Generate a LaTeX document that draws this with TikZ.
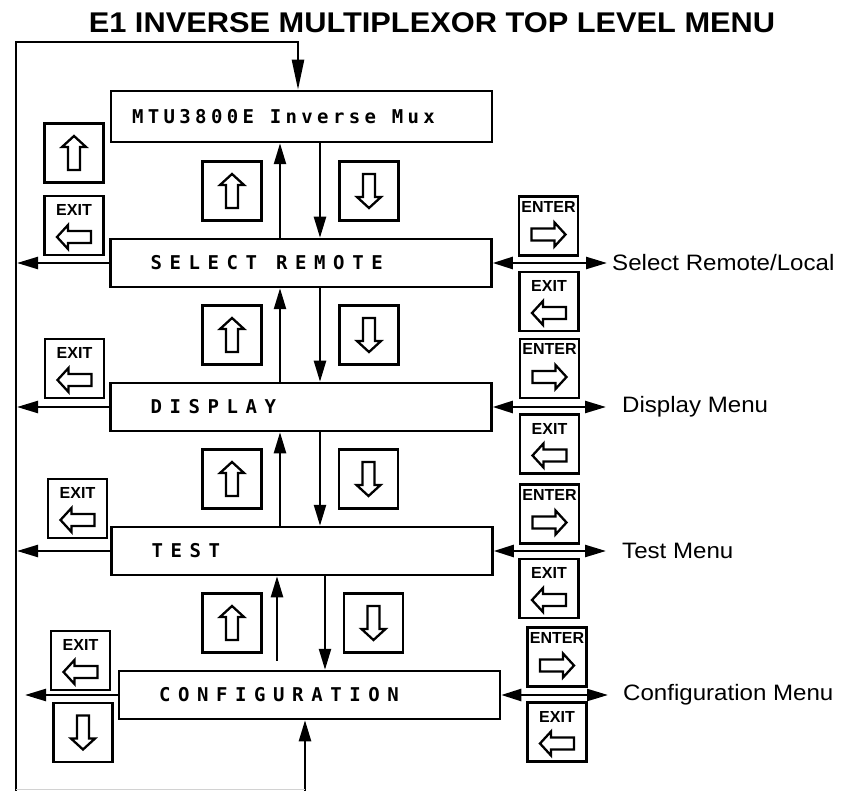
\documentclass[tikz,border=0pt]{standalone}
\usepackage{fontspec}
\setmainfont{Liberation Sans}
\newfontfamily\headfont{Liberation Sans}[FakeStretch=1.08]
\newfontfamily\lcdfont{DejaVu Sans Mono}[LetterSpace=40]
\newfontfamily\lcdnarrow{DejaVu Sans Mono}[LetterSpace=23]
\usetikzlibrary{arrows.meta}

\tikzset{
  blockarrow/.pic={\draw[line width=2.3pt, line join=miter]
    (-6,17) -- (-6,-6) -- (-12,-6) -- (0,-17) -- (12,-6) -- (6,-6) -- (6,17) -- cycle;},
  keylbl/.style={inner sep=0pt, font=\bfseries\fontsize{16}{18}\selectfont},
  keybox/.style={draw, line width=2.4pt, minimum width=59pt, minimum height=59pt, inner sep=0pt},
  upkey/.style={keybox, path picture={\pic at (path picture bounding box.center) {blockarrow};}},
  downkey/.style={keybox, path picture={\pic[rotate=180] at (path picture bounding box.center) {blockarrow};}},
  exitkey/.style={keybox, path picture={
    \node[keylbl] at ([yshift=-14pt]path picture bounding box.north) {EXIT};
    \pic[rotate=90] at ([yshift=-41pt]path picture bounding box.north) {blockarrow};}},
  enterkey/.style={keybox, path picture={
    \node[keylbl] at ([yshift=-10pt]path picture bounding box.north) {ENTER};
    \pic[rotate=-90] at ([yshift=-38pt]path picture bounding box.north) {blockarrow};}}
}

\begin{document}
\begin{tikzpicture}[x=1pt, y=-1pt,
  menubox/.style={draw, line width=2.5pt, minimum height=48pt, text width=301pt,
    inner xsep=40pt, align=left, font=\lcdfont\bfseries\fontsize{19}{22}\selectfont},
  menulbl/.style={anchor=west, inner xsep=16pt, font=\headfont\fontsize{22.3}{26}\selectfont},
  arr/.style={-{Triangle[length=21pt,width=12pt]}, line width=2.4pt},
  bigarr/.style={-{Triangle[length=30pt,width=12pt]}, line width=2.4pt},
  dbl/.style={{Triangle[length=20pt,width=12pt]}-{Triangle[length=21pt,width=12pt]}, line width=2.4pt}
]
  \fill[white] (0,0) rectangle (846,791);
  \useasboundingbox (0,0) rectangle (846,791);

  \node[font=\headfont\bfseries\fontsize{28.5}{33}\selectfont] (title) at (432,23)
    {E1 INVERSE MULTIPLEXOR TOP LEVEL MENU};

  % menu screens
  \node[menubox, font=\lcdnarrow\bfseries\fontsize{19}{22}\selectfont, inner xsep=21pt,
    text width=339pt, minimum height=51pt] (mtu) at (301.5,116.5)
    {MTU3800E\hspace{15.7pt}Inverse\hspace{15.7pt}Mux};
  \node[menubox] (sel) at (301,263) {SELECT\hspace{19pt}REMOTE};
  \node[menubox] (disp) at (301,407) {DISPLAY};
  \node[menubox] (test) at (302,551) {TEST};
  \node[menubox] (conf) at (309.5,695) {CONFIGURATION};

  % keys on the left
  \node[upkey] (lup) at (74,153) {};
  \node[exitkey] (lexit1) at (74,225.5) {};
  \node[exitkey] (lexit2) at (74.5,368.5) {};
  \node[exitkey] (lexit3) at (77.5,508.5) {};
  \node[exitkey] (lexit4) at (80.5,660.5) {};
  \node[downkey] (ldown) at (83,732.5) {};

  % keys between the screens
  \node[upkey] (up1) at (232,191) {};
  \node[downkey] (dn1) at (369,191) {};
  \node[upkey] (up2) at (232,335) {};
  \node[downkey] (dn2) at (369,335) {};
  \node[upkey] (up3) at (232,479) {};
  \node[downkey] (dn3) at (368.5,479) {};
  \node[upkey] (up4) at (232,623) {};
  \node[downkey] (dn4) at (373.5,623) {};

  % keys on the right
  \node[enterkey] (ent1) at (548.5,226) {};
  \node[exitkey] (rexit1) at (549,301.5) {};
  \node[enterkey] (ent2) at (549.5,368.5) {};
  \node[exitkey] (rexit2) at (549.5,444) {};
  \node[enterkey] (ent3) at (549.5,514) {};
  \node[exitkey] (rexit3) at (549,588.5) {};
  \node[enterkey] (ent4) at (557,657) {};
  \node[exitkey] (rexit4) at (557,732) {};

  % sub menus
  \node[menulbl, inner xsep=5pt] (selmenu) at (607,263) {Select Remote/Local};
  \node[menulbl] (dispmenu) at (606,407) {Display Menu};
  \node[menulbl] (testmenu) at (606,551) {Test Menu};
  \node[menulbl, inner xsep=15pt] (confmenu) at (608,695) {Configuration Menu};

  \draw[dbl] (sel.east) -- (selmenu.west);
  \draw[dbl] (disp.east) -- (dispmenu.west);
  \draw[dbl] (test.east) -- (testmenu.west);
  \draw[dbl] (conf.east) -- (confmenu.west);

  % up / down between screens
  \coordinate (upline) at (280,0);
  \coordinate (dnline) at (320,0);
  \coordinate (upline4) at (277,0);
  \coordinate (dnline4) at (325,0);
  \draw[arr] (sel.north -| upline) -- (mtu.south -| upline);
  \draw[arr] (mtu.south -| dnline) -- (sel.north -| dnline);
  \draw[arr] (disp.north -| upline) -- (sel.south -| upline);
  \draw[arr] (sel.south -| dnline) -- (disp.north -| dnline);
  \draw[arr] (test.north -| upline) -- (disp.south -| upline);
  \draw[arr] (disp.south -| dnline) -- (test.north -| dnline);
  \draw[arr, shorten <=9pt] (conf.north -| upline4) -- (test.south -| upline4);
  \draw[arr] (test.south -| dnline4) -- (conf.north -| dnline4);

  % wrap-around loop
  \coordinate (loopbl) at (16,791);
  \coordinate (looptl) at (16,42);
  \coordinate (looptr) at (298,42);
  \coordinate (loopbr) at (305,791);
  \draw[bigarr] (loopbl) -- (looptl) -- (looptr) -- (looptr |- mtu.north);
  \draw[arr] (loopbr) -- (loopbr |- conf.south);
  \draw[gray!35, line width=1.5pt] (loopbl) ++(0,-1.5) -- ([yshift=1.5pt]loopbr);

  % exit to the left
  \draw[arr, shorten >=1pt] (sel.west) -- (sel.west -| looptl);
  \draw[arr, shorten >=1pt] (disp.west) -- (disp.west -| looptl);
  \draw[arr, shorten >=1pt] (test.west) -- (test.west -| looptl);
  \draw[arr, shorten >=9pt] (conf.west) -- (conf.west -| looptl);
\end{tikzpicture}
\end{document}
